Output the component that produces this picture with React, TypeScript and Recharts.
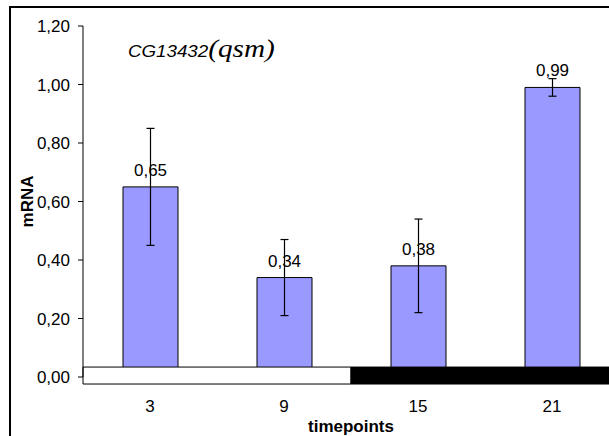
import React from 'react';
import {
  Bar,
  BarChart,
  ErrorBar,
  LabelList,
  ReferenceArea,
  XAxis,
  YAxis
} from 'recharts';

const timepoints = ['3', '9', '15', '21'];
const mrna = [0.65, 0.34, 0.38, 0.99];
const sem = [0.2, 0.13, 0.16, 0.03];
const yTicks = [0, 0.2, 0.4, 0.6, 0.8, 1.0, 1.2];

// light / dark phases drawn as the bar under the axis
const phaseFrom = ['3', '15'];
const phaseTo = ['9', '21'];
const phaseKind = ['light', 'dark'];

const phaseFill: Record<string, string> = { light: '#FFFFFF', dark: '#000000' };
const STRIP_TOP = 0.034;
const STRIP_BOTTOM = -0.024;

const data = timepoints.map((t, i) => ({ t, value: mrna[i], err: sem[i] }));

const comma = (v: any) => Number(v).toFixed(2).replace('.', ',');

const font = 'Arial, "Liberation Sans", sans-serif';
const FS = 17;

const App: React.FC = () => {
  return (
    <div
      style={{
        position: 'absolute',
        left: 0,
        top: 0,
        width: 609,
        height: 436,
        overflow: 'hidden',
        background: '#fff',
        fontFamily: font
      }}
    >
      <div
        style={{
          position: 'absolute',
          left: 9,
          top: 6,
          width: 700,
          height: 500,
          border: '2px solid #000'
        }}
      />
      <div style={{ position: 'absolute', left: 0, top: 0 }}>
        <BarChart
          width={640}
          height={436}
          data={data}
          margin={{ top: 26, right: 21, bottom: 0, left: 0 }}
          barSize={55}
        >
          <XAxis
            dataKey="t"
            axisLine={false}
            tickLine={false}
            tickMargin={17}
            height={59}
            tick={{ fill: '#000', fontSize: FS, fontFamily: font }}
            label={{
              value: 'timepoints',
              position: 'insideBottom',
              offset: 4,
              style: { fill: '#000', fontSize: FS, fontWeight: 'bold', fontFamily: font }
            }}
          />
          <YAxis
            width={83}
            domain={[0, 1.2]}
            ticks={yTicks}
            interval={0}
            tickFormatter={comma}
            axisLine={{ stroke: '#000' }}
            tickLine={{ stroke: '#000' }}
            tickSize={5}
            tickMargin={8}
            tick={{ fill: '#000', fontSize: FS, fontFamily: font }}
            label={{
              value: 'mRNA',
              angle: -90,
              position: 'insideLeft',
              offset: 27,
              style: { textAnchor: 'middle', fill: '#000', fontSize: FS, fontWeight: 'bold', fontFamily: font }
            }}
          />
          <Bar
            dataKey="value"
            fill="#9999FF"
            stroke="#000"
            strokeWidth={1}
            isAnimationActive={false}
          >
            <LabelList
              dataKey="value"
              position="top"
              offset={11}
              formatter={comma}
              style={{ fill: '#000', fontSize: FS, fontFamily: font }}
            />
            <ErrorBar dataKey="err" width={4} stroke="#000" strokeWidth={1.2} direction="y" />
          </Bar>
          {phaseFrom.map((from, i) => (
            <ReferenceArea
              key={from}
              x1={from}
              x2={phaseTo[i]}
              y1={STRIP_BOTTOM}
              y2={STRIP_TOP}
              ifOverflow="visible"
              fill={phaseFill[phaseKind[i]]}
              fillOpacity={1}
              stroke="#000"
              strokeWidth={1}
              zIndex={350}
            />
          ))}
        </BarChart>
      </div>
      <div
        style={{
          position: 'absolute',
          left: 128,
          top: 36,
          lineHeight: '26px',
          fontStyle: 'italic',
          whiteSpace: 'nowrap',
          color: '#000',
          transform: 'scaleX(1.17)',
          transformOrigin: 'left center'
        }}
      >
        <span style={{ fontFamily: font, fontSize: 16 }}>CG13432</span>
        <span style={{ fontFamily: '"Liberation Serif", "Times New Roman", serif', fontSize: 25 }}>(qsm)</span>
      </div>
    </div>
  );
};

export default App;
